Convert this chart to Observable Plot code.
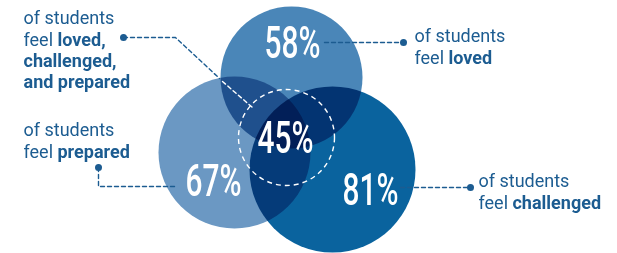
<!DOCTYPE html>
<html><head><meta charset="utf-8">
<script src="https://cdn.jsdelivr.net/npm/d3@7"></script>
<script src="https://cdn.jsdelivr.net/npm/@observablehq/plot@0.6"></script>
<style>body{margin:0;background:#fff}</style>
</head><body><div id="chart"></div>
<script>
// Venn circles: loved, prepared, challenged
const groups = ["loved", "prepared", "challenged"];
const shares = [58, 67, 81];
const circleX = [291, 234, 332];
const circleY = [77, 152, 169];
const circleR = [71, 76, 83];
const circleFill = ["#4a86b8", "#6b98c3", "#0a639e"];
const labelX = [292, 213, 370];
const labelY = [43, 181, 190];
// all three
const overlapShare = [45];
const overlapX = [286];
const overlapY = [137];
const overlapR = [48];
const overlapLabelX = [285];
const overlapLabelY = [138];
// captions
const captionText = [
  "of students\nfeel **loved,**\n**challenged,**\n**and prepared**",
  "of students\nfeel **prepared**",
  "of students\nfeel **loved**",
  "of students\nfeel **challenged**"
];
const captionX = [23, 23, 414, 478];
const captionY = [9, 121, 27, 172];
// leader lines
const leaderAll = [[123, 37], [175, 37], [219, 78]];
const leaderAllInside = [[222, 81], [252, 107]];
const leaderLoved = [[324, 42], [403, 42]];
const leaderPrepared = [[98, 167], [98, 186], [177, 186]];
const leaderChallenged = [[400, 187], [470, 187]];
const leaderDots = [[123, 37], [403, 42], [98, 167], [470, 187]];

const blue = "#1c5c91";
const circles = groups.map((g, i) => ({g, x: circleX[i], y: circleY[i], r: circleR[i], fill: circleFill[i], share: shares[i], lx: labelX[i], ly: labelY[i]}));
const core = overlapShare.map((s, i) => ({share: s, x: overlapX[i], y: overlapY[i], r: overlapR[i], lx: overlapLabelX[i], ly: overlapLabelY[i]}));
const captions = captionText.map((t, i) => ({t, x: captionX[i], y: captionY[i]}));
const toPts = (arr, id) => arr.map(([x, y]) => ({x, y, id}));
const blueLeaders = [...toPts(leaderAll, "a"), ...toPts(leaderLoved, "b"), ...toPts(leaderPrepared, "c"), ...toPts(leaderChallenged, "d")];
const whiteLeaders = toPts(leaderAllInside, "e");
const dots = leaderDots.map(([x, y]) => ({x, y}));

const circleMarks = circles.map(c => Plot.dot([c], {x: "x", y: "y", r: "r", fill: c.fill, stroke: null, mixBlendMode: "multiply"}));

const chart = Plot.plot({
  width: 617, height: 253,
  margin: 0,
  x: {domain: [0, 617], range: [0, 617], axis: null},
  y: {domain: [0, 253], range: [0, 253], axis: null},
  r: {type: "identity"},
  style: {background: "#fff"},
  marks: [
    ...circleMarks,
    Plot.dot(core, {x: "x", y: "y", r: "r", stroke: "#fff", strokeWidth: 1.4, strokeDasharray: "5,4", fill: "none"}),
    Plot.line(blueLeaders, {x: "x", y: "y", z: "id", stroke: blue, strokeWidth: 1.4, strokeDasharray: "4,3", curve: "linear"}),
    Plot.line(whiteLeaders, {x: "x", y: "y", z: "id", stroke: "#fff", strokeWidth: 1.4, strokeDasharray: "4,3"}),
    Plot.dot(dots, {x: "x", y: "y", r: 3.5, fill: blue, stroke: null}),
    Plot.text(circles, {x: "lx", y: "ly", text: d => d.share + "%", fill: "#fff", fontSize: 44, fontWeight: 500, fontFamily: "Roboto"}),
    Plot.text(core, {x: "lx", y: "ly", text: d => d.share + "%", fill: "#fff", fontSize: 44, fontWeight: 500, fontFamily: "Roboto"}),
    Plot.text(captions, {x: "x", y: "y", text: "t", textAnchor: "start", lineAnchor: "top", lineHeight: 1.17, fill: blue, fontSize: 18, fontFamily: "Roboto"})
  ]
});
document.getElementById("chart").appendChild(chart);

// condense the percent figures
chart.querySelectorAll("text").forEach(t => {
  if (/^\d+%$/.test(t.textContent.trim())) {
    const tr = t.getAttribute("transform") || "";
    t.setAttribute("transform", tr + " scale(0.68,1)");
  }
});
// bold segments marked with **
chart.querySelectorAll("tspan").forEach(ts => {
  const s = ts.textContent;
  if (!s.includes("**")) return;
  ts.textContent = "";
  s.split("**").forEach((part, k) => {
    if (!part) return;
    const sp = document.createElementNS("http://www.w3.org/2000/svg", "tspan");
    sp.textContent = part;
    if (k % 2 === 1) sp.setAttribute("font-weight", "bold");
    ts.appendChild(sp);
  });
});
</script>
</body></html>
